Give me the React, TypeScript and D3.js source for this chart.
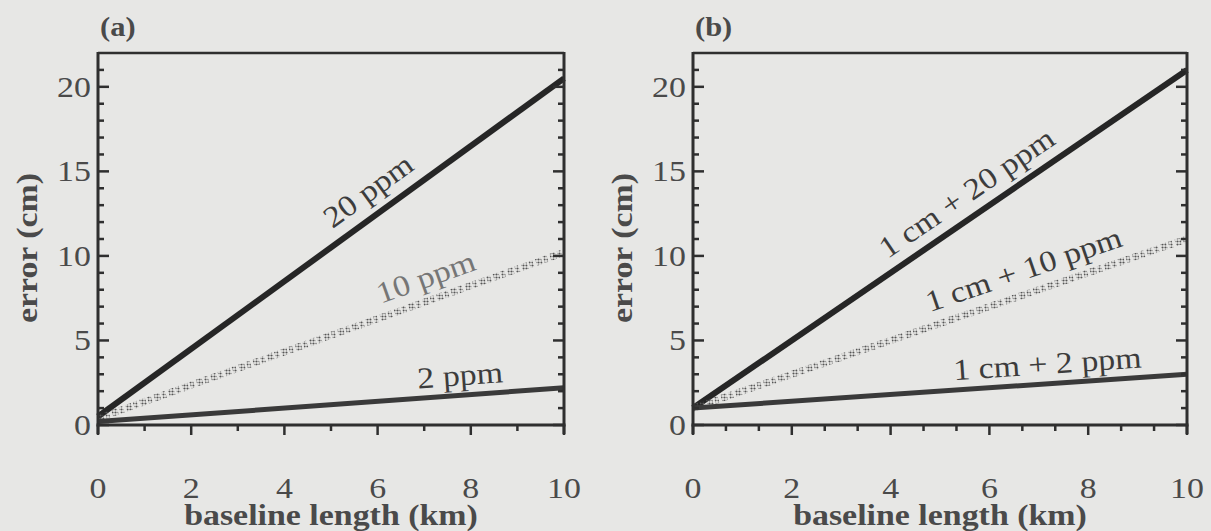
import React from 'react';
import * as d3 from 'd3';

// ---- data ----
const baselineKm = [0, 10];
const errA20 = [0.5, 20.5];
const errA10 = [0.4, 10.2];
const errA2 = [0.2, 2.2];
const errB20 = [1.0, 21.0];
const errB10 = [1.0, 11.0];
const errB2 = [1.0, 3.0];
const xTickValues = [0, 2, 4, 6, 8, 10];
const yTickValues = [0, 5, 10, 15, 20];
const labelsA = ['20 ppm', '10 ppm', '2 ppm'];
const labelsB = ['1 cm + 20 ppm', '1 cm + 10 ppm', '1 cm + 2 ppm'];
const panelTitles = ['(a)', '(b)'];
const xAxisTitle = 'baseline length (km)';
const yAxisTitle = 'error (cm)';

const W = 1211;
const H = 531;
const BG = '#e7e7e5';
const INK = '#2f2f2f';
const TXT = '#4a4a4a';
const FONT = '"Liberation Serif", "Times New Roman", serif';
const STRETCH = 1.13;

type Series = {
  values: number[];
  label: string;
  kind: 'solid' | 'dots' | 'mid';
  labelKm: number;
  gap: number;
  labelColor: string;
};

type PanelProps = {
  x0: number;
  x1: number;
  minorStep: number;
  title: string;
  series: Series[];
};

const Y0 = 425;
const YTOP = 53;
const YMAX = 22;

type TProps = {
  x: number;
  y: number;
  rot?: number;
  anchor?: 'start' | 'middle' | 'end';
  size: number;
  bold?: boolean;
  fill: string;
  dy?: number;
  children: React.ReactNode;
};

function T({ x, y, rot = 0, anchor = 'start', size, bold, fill, dy = 0, children }: TProps) {
  return (
    <text
      transform={`translate(${x},${y}) rotate(${rot}) scale(${STRETCH},1)`}
      y={dy}
      textAnchor={anchor}
      fontFamily={FONT}
      fontSize={size}
      fontWeight={bold ? 'bold' : 'normal'}
      fill={fill}
    >
      {children}
    </text>
  );
}

function Panel({ x0, x1, minorStep, title, series }: PanelProps) {
  const sx = d3.scaleLinear().domain([0, 10]).range([x0, x1]);
  const sy = d3.scaleLinear().domain([0, YMAX]).range([Y0, YTOP]);
  const line = d3
    .line<number>()
    .x((_, i) => sx(baselineKm[i]))
    .y((d) => sy(d));

  const minorX = d3.range(0, 10 + 1e-6, minorStep);
  const minorY = d3.range(0, YMAX, 1);

  const interp = (vals: number[], k: number) =>
    vals[0] + ((vals[1] - vals[0]) * (k - baselineKm[0])) / (baselineKm[1] - baselineKm[0]);

  return (
    <g>
      {/* series */}
      {series.map((s, i) => {
        const d = line(s.values) || '';
        if (s.kind === 'dots') {
          return (
            <path
              key={i}
              d={d}
              stroke="url(#halftone)"
              strokeWidth={7}
              fill="none"
              strokeDasharray="6 2 4 3"
            />
          );
        }
        return (
          <path
            key={i}
            d={d}
            stroke={s.kind === 'solid' ? '#262626' : '#3a3a3a'}
            strokeWidth={s.kind === 'solid' ? 6 : 5}
            fill="none"
          />
        );
      })}

      {/* frame */}
      <line x1={x0} x2={x1} y1={YTOP} y2={YTOP} stroke={INK} strokeWidth={2.5} />
      <line x1={x0} x2={x0} y1={YTOP - 1} y2={Y0 + 9} stroke={INK} strokeWidth={3} />
      <line x1={x1} x2={x1} y1={YTOP - 1} y2={Y0 + 9} stroke={INK} strokeWidth={3} />
      <line x1={x0 - 1.5} x2={x1 + 1.5} y1={Y0} y2={Y0} stroke={INK} strokeWidth={3} />

      {/* x ticks */}
      {minorX.map((v, i) => {
        const major = xTickValues.some((t) => Math.abs(t - v) < 1e-6);
        return (
          <line
            key={'xt' + i}
            x1={sx(v)}
            x2={sx(v)}
            y1={Y0}
            y2={Y0 + (major ? 10 : 6)}
            stroke={INK}
            strokeWidth={2.5}
          />
        );
      })}
      {/* y ticks left and right */}
      {minorY.map((v, i) => {
        const major = yTickValues.includes(v);
        const len = major ? 11 : 6;
        return (
          <g key={'yt' + i}>
            <line x1={x0} x2={x0 + len} y1={sy(v)} y2={sy(v)} stroke={INK} strokeWidth={2.5} />
            <line x1={x1} x2={x1 - len} y1={sy(v)} y2={sy(v)} stroke={INK} strokeWidth={2.5} />
          </g>
        );
      })}

      {/* tick labels */}
      {xTickValues.map((v) => (
        <T key={'xl' + v} x={sx(v)} y={498} anchor="middle" size={30} fill={TXT}>
          {v}
        </T>
      ))}
      {yTickValues.map((v) => (
        <T key={'yl' + v} x={x0 - 7} y={sy(v) + 10} anchor="end" size={30} fill={TXT}>
          {v}
        </T>
      ))}

      {/* axis titles */}
      <T x={(x0 + x1) / 2} y={525} anchor="middle" size={30} bold fill={TXT}>
        {xAxisTitle}
      </T>
      <T x={x0 - 61} y={248} rot={-90} anchor="middle" size={30} bold fill={TXT}>
        {yAxisTitle}
      </T>

      {/* panel title */}
      <T x={x0 + 2} y={36} size={27} bold fill={TXT}>
        {title}
      </T>

      {/* series labels */}
      {series.map((s, i) => {
        const px = sx(s.labelKm);
        const py = sy(interp(s.values, s.labelKm));
        const dx = sx(baselineKm[1]) - sx(baselineKm[0]);
        const dyy = sy(s.values[1]) - sy(s.values[0]);
        const ang = (Math.atan2(dyy, dx) * 180) / Math.PI;
        return (
          <T
            key={'sl' + i}
            x={px}
            y={py}
            rot={ang}
            dy={-s.gap}
            anchor="middle"
            size={30}
            fill={s.labelColor}
          >
            {s.label}
          </T>
        );
      })}
    </g>
  );
}

export default function App() {
  const seriesA: Series[] = [
    { values: errA20, label: labelsA[0], kind: 'solid', labelKm: 6.1, gap: 14, labelColor: '#3c3c3c' },
    { values: errA10, label: labelsA[1], kind: 'dots', labelKm: 7.2, gap: 13, labelColor: '#767676' },
    { values: errA2, label: labelsA[2], kind: 'mid', labelKm: 7.8, gap: 10, labelColor: '#3c3c3c' },
  ];
  const seriesB: Series[] = [
    { values: errB20, label: labelsB[0], kind: 'solid', labelKm: 5.8, gap: 13, labelColor: '#3c3c3c' },
    { values: errB10, label: labelsB[1], kind: 'dots', labelKm: 6.85, gap: 14, labelColor: '#3c3c3c' },
    { values: errB2, label: labelsB[2], kind: 'mid', labelKm: 7.2, gap: 10, labelColor: '#3c3c3c' },
  ];
  return (
    <svg
      width={W}
      height={H}
      viewBox={`0 0 ${W} ${H}`}
      style={{ position: 'absolute', left: 0, top: 0, display: 'block' }}
    >
      <defs>
        <pattern id="halftone" width="3" height="3" patternUnits="userSpaceOnUse">
          <circle cx="1.5" cy="1.5" r="1.1" fill="#565656" />
        </pattern>
      </defs>
      <rect x={0} y={0} width={W} height={H} fill={BG} />
      <Panel x0={98} x1={564} minorStep={1} title={panelTitles[0]} series={seriesA} />
      <Panel x0={693} x1={1187} minorStep={2 / 3} title={panelTitles[1]} series={seriesB} />
    </svg>
  );
}
